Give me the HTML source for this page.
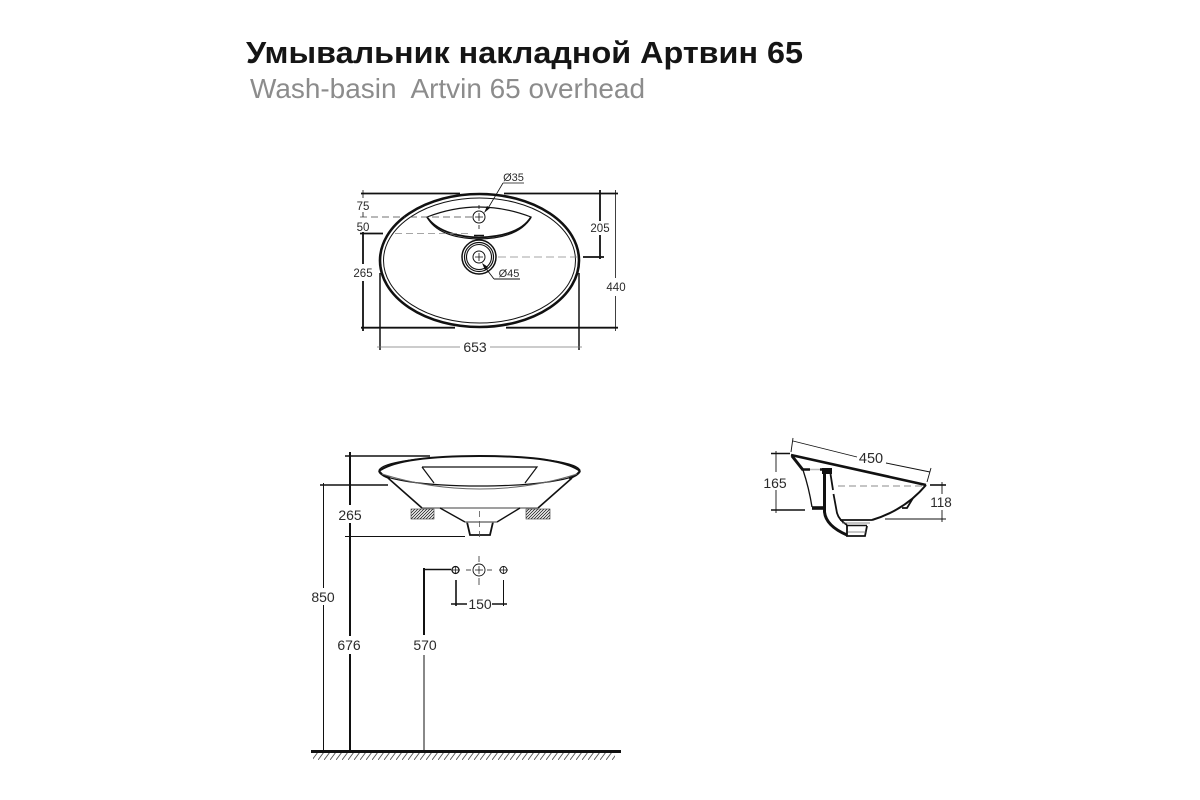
<!DOCTYPE html>
<html><head><meta charset="utf-8"><style>html,body{margin:0;padding:0;background:#fff;width:1200px;height:800px;overflow:hidden}svg{display:block}text{font-family:"Liberation Sans",sans-serif;fill:#2a2a2a}</style></head><body>
<svg width="1200" height="800" viewBox="0 0 1200 800" xmlns="http://www.w3.org/2000/svg">
<defs>
<pattern id="h" width="3" height="3" patternUnits="userSpaceOnUse"><path d="M0 3L3 0M-1 1L1 -1M2 4L4 2" stroke="#222" stroke-width=".8"/></pattern>
<pattern id="g" width="6" height="8" patternUnits="userSpaceOnUse"><path d="M0 8L6 0" stroke="#555" stroke-width=".9"/></pattern>
</defs>
<text x="246" y="63" font-size="31" font-weight="700" textLength="557" lengthAdjust="spacingAndGlyphs" style="fill:#151515">Умывальник накладной Артвин 65</text>
<text x="250" y="98" font-size="28" textLength="395" lengthAdjust="spacingAndGlyphs" style="fill:#8c8c8c;white-space:pre">Wash-basin  Artvin 65 overhead</text>

<!-- Top view -->
<g fill="none" stroke="#111">
<ellipse cx="479.500" cy="260.500" rx="99.500" ry="66.500" stroke-width="2.600"/>
<ellipse cx="479.500" cy="260.500" rx="96" ry="62.500" stroke-width="1"/>
<path d="M427 217Q479 197 531 217Q520 238 479 239Q438 238 427 217Z" stroke-width="1.200"/>
<path d="M427 217Q440 236 479 237.500Q520 236 531 217" stroke-width="1.800"/>
<circle cx="479" cy="217" r="6" stroke-width="1"/>
<path d="M479 213V221M475 217H483M479 205V209M479 225V229" stroke-width=".8"/>
<path d="M474 235.500H484" stroke-width="1.500"/>
<circle cx="479" cy="257" r="17" stroke-width="1.500"/>
<circle cx="479" cy="257" r="14.500" stroke-width="1.200"/>
<circle cx="479" cy="257" r="12.500" stroke-width="1.100"/>
<circle cx="479" cy="257" r="6" stroke-width="1"/>
<path d="M475 257H483M479 253V261" stroke-width=".8"/>
<path d="M360 217H405M410 217H478" stroke="#444" stroke-width=".8" stroke-dasharray="7 4"/>
<path d="M395 233.500H470" stroke="#888" stroke-width=".8" stroke-dasharray="7 4"/>
<path d="M498 257H578" stroke="#888" stroke-width=".8" stroke-dasharray="8 4"/>
<path d="M361 193.500H460M504 193.500H618" stroke-width="1.800"/>
<path d="M361 327.700H455M506 327.700H618" stroke-width="1.800"/>
<path d="M600 190V221M600 235V259M583 257H604" stroke-width="1.800"/>
<path d="M615.500 190V278M615.500 296V331" stroke-width=".8"/>
<path d="M363 190V198M363 212V217" stroke-width=".8"/>
<path d="M360 233.500H383M363 232V264M363 281V331" stroke-width="1.800"/>
<path d="M380 273V350M579 273V350" stroke-width="1.500"/>
<path d="M377 347H460M490 347H582" stroke="#777" stroke-width=".8"/>
<path d="M503 183H524M503 183L487 210" stroke-width=".8"/>
<path d="M494 279H520M494 279L484 266" stroke-width=".9"/>
</g>
<path d="M484 213L487 206L490 208Z M482 263L488 267L485 270Z" fill="#111"/>
<g font-size="11" text-anchor="middle">
<text x="513.500" y="181">Ø35</text><text x="509" y="277">Ø45</text>
</g>
<g font-size="11.500" text-anchor="middle">
<text x="363" y="210">75</text><text x="363" y="231">50</text><text x="363" y="277">265</text><text x="600" y="232">205</text><text x="616" y="291">440</text>
</g>
<text x="475" y="352" font-size="14" text-anchor="middle">653</text>

<!-- Front view -->
<g fill="none" stroke="#111">
<ellipse cx="479.500" cy="471" rx="100.500" ry="15" stroke-width="1.200"/>
<path d="M379 471Q400 456 479.500 456Q560 456 580 471" stroke-width="2"/>
<path d="M379 471Q382 476 390 478M580 471Q577 476 569 478" stroke-width="2.200"/>
<path d="M382 474Q430 489 479.500 489Q530 489 577 474" stroke="#666" stroke-width="1"/>
<path d="M422 467H537L525 483M422 467L434 483" stroke-width="1.200"/>
<path d="M388 478L422 508M572 478L538 508" stroke-width="1.600"/>
<path d="M422 508H538" stroke="#666" stroke-width="1.300"/>
<path d="M440 508L465 522M520 508L497 522" stroke-width="1.400"/>
<path d="M467 522L470 535H490L493 522" stroke-width="1.800"/>
<path d="M465 522H497" stroke="#777" stroke-width="1.500"/>
<path d="M479.500 511V538" stroke="#555" stroke-width=".8" stroke-dasharray="6 4"/>
<path d="M345 456H430" stroke-width="1.600"/>
<path d="M350 452V505M350 523V636M350 654V750" stroke-width="2"/>
<path d="M320 485H388" stroke-width="1.600"/>
<path d="M323.500 483V588M323.500 605V751" stroke-width="1"/>
<path d="M345 536.500H465" stroke-width=".9"/>
<path d="M424 568V635" stroke-width="2"/><path d="M424 655V751" stroke-width="1"/>
<path d="M423 569.500H451" stroke-width="1.600"/>
<circle cx="455.500" cy="570" r="3.500" stroke-width="1.200"/>
<circle cx="479" cy="570" r="6" stroke-width=".9"/>
<circle cx="503.500" cy="570" r="3.500" stroke-width=".9"/>
<path d="M451 570H460M455.500 566V574M499 570H508M503.500 566V574M475 570H483M479 566V574M479 556V562M479 578V585M466 570H471M487 570H492" stroke-width=".7"/>
<path d="M456 580V606" stroke-width="1.600"/><path d="M503.500 580V606" stroke-width="1"/>
<path d="M451 604H467M492 604H507" stroke-width="1.500"/>
<path d="M311 751.500H621" stroke-width="3"/>
</g>
<rect x="411" y="509" width="23" height="10" fill="url(#h)" stroke="#333" stroke-width=".6"/>
<rect x="526" y="509" width="24" height="10" fill="url(#h)" stroke="#333" stroke-width=".6"/>
<rect x="313" y="753" width="302" height="7" fill="url(#g)"/>
<g font-size="14" text-anchor="middle">
<text x="350" y="520">265</text><text x="323" y="602">850</text><text x="349" y="650">676</text><text x="425" y="650">570</text><text x="480" y="609">150</text>
</g>

<!-- Side view -->
<g fill="none" stroke="#111">
<path d="M791 455L926 485" stroke-width="2.600"/>
<path d="M792 456L803 470" stroke-width="3"/>
<path d="M803 470Q809 488 812 507" stroke-width="1.300"/>
<path d="M926 485Q905 510 872 520" stroke-width="2"/>
<path d="M802 469.500H810M820 469.500H824" stroke-width="2.400"/>
<path d="M810 469.500H820" stroke="#bbb" stroke-width="1.500"/>
<path d="M822 471H832" stroke-width="6"/>
<path d="M824.500 474V512Q826 526 847 535" stroke-width="3"/>
<path d="M830.500 474L833 490M833.500 494L837 513Q839 520 847 525" stroke-width="1.800"/>
<path d="M812 508H824" stroke-width="3.600"/>
<path d="M840 520H872" stroke-width="1.800"/>
<path d="M842 523H870" stroke="#666" stroke-width=".8"/>
<path d="M846 525.500H867" stroke-width="1.400"/>
<path d="M847 525V536H865L867 526" stroke-width="1.800"/>
<path d="M848 532H866" stroke="#666" stroke-width=".8"/>
<path d="M902 508H907L913 498" stroke-width="1.800"/>
<path d="M838 486H922" stroke="#666" stroke-width=".8" stroke-dasharray="7 4"/>
<path d="M793 441L857 457M886 463L930 472" stroke-width=".9"/>
<path d="M793 438L791 452M931 468L927 482" stroke-width=".9"/>
<path d="M776 451V472M776 490V513" stroke-width=".9"/>
<path d="M771 453.500H790" stroke-width="1.600"/>
<path d="M771 510H805" stroke-width="1.600"/>
<path d="M942 482V494M942 510V522" stroke-width=".9"/>
<path d="M930 485H946" stroke-width="1.600"/>
<path d="M885 519H946" stroke-width=".9"/>
</g>
<g text-anchor="middle">
<text x="871" y="463" font-size="14.500">450</text><text x="775" y="488" font-size="14">165</text><text x="941" y="507" font-size="13.500">118</text>
</g>
</svg>
</body></html>
